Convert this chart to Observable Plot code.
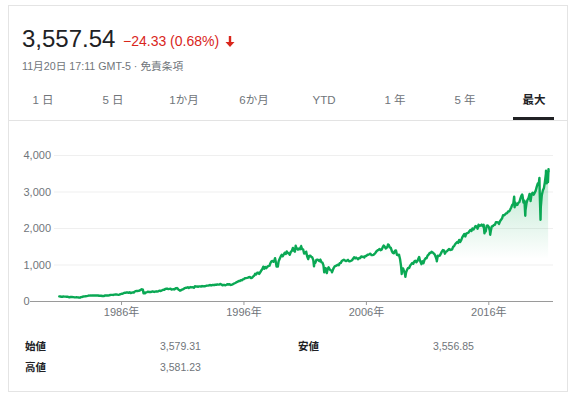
<!DOCTYPE html>
<html>
<head>
<meta charset="utf-8">
<script src="https://cdn.jsdelivr.net/npm/d3@7"></script>
<script src="https://cdn.jsdelivr.net/npm/@observablehq/plot@0.6"></script>
<style>
  html, body { margin: 0; padding: 0; background: #fff; }
  body { width: 578px; height: 400px; position: relative; overflow: hidden;
         font-family: Arial, "Liberation Sans", "Noto Sans CJK JP", sans-serif; }
  .card { position: absolute; left: 8px; top: 5px; width: 560px; height: 387px;
          border: 1px solid #e4e4e4; box-sizing: border-box; }
  .abs { position: absolute; white-space: nowrap; }
  .price { left: 22px; top: 27px; font-size: 24px; line-height: 24px; color: #202124; }
  .change { left: 123px; top: 34px; font-size: 14px; line-height: 14px; color: #d9261c; }
  .sub { left: 22px; top: 60px; font-size: 10.7px; line-height: 12px; color: #70757a; }
  .tab { top: 93px; width: 70px; text-align: center; font-size: 11.5px; line-height: 14px; color: #70757a; }
  .tab.on { color: #202124; font-weight: bold; }
  .sep { left: 9px; top: 120px; width: 559px; height: 1px; background: #e3e3e3; }
  .under { left: 513px; top: 117px; width: 41px; height: 3px; background: #202124; }
  .lab { font-size: 10.5px; line-height: 12px; color: #202124; font-weight: bold; }
  .val { font-size: 10.5px; line-height: 12px; color: #70757a; }
  #chart { position: absolute; left: 0; top: 130px; }
</style>
</head>
<body>
<div class="card"></div>
<div class="abs price">3,557.54</div>
<div class="abs change">−24.33 (0.68%)
  <svg width="10" height="11" viewBox="0 0 10 11" style="vertical-align:-1px;margin-left:2px"><path d="M3.8 0h2.4v6h3.3L5 11 0.5 6h3.3z" fill="#d9261c"/></svg></div>
<div class="abs sub">11月20日 17:11 GMT-5 · 免責条項</div>
<div id="tabs"></div>
<div class="abs sep"></div>
<div class="abs under"></div>
<div id="table"></div>
<div id="chart"></div>
<script>
// ---- Data (S&P 500, monthly closes from 1980-11 to 2020-10) ----
const firstYear = 1980, firstMonth = 10; // November 1980 (0-based month)
const monthlyCloses = [
  140.52, 135.76,
  129.55, 131.27, 136.00, 132.81, 132.59, 131.21, 130.92, 122.79, 116.18, 121.89, 126.35, 122.55,
  120.40, 113.11, 111.96, 116.44, 111.88, 109.61, 107.09, 119.51, 120.42, 133.71, 138.54, 140.64,
  145.30, 148.06, 152.96, 164.42, 162.39, 168.11, 162.56, 164.40, 166.07, 163.55, 166.40, 164.93,
  163.41, 157.06, 159.18, 160.05, 150.55, 153.18, 150.66, 166.68, 166.10, 166.09, 163.58, 167.24,
  179.63, 181.18, 180.66, 179.83, 189.55, 191.85, 190.92, 188.63, 182.08, 189.82, 202.17, 211.28,
  211.78, 226.92, 238.90, 235.52, 247.35, 250.84, 236.12, 252.93, 231.32, 243.98, 249.22, 242.17,
  274.08, 284.20, 291.70, 288.36, 290.10, 304.00, 318.66, 329.80, 321.83, 251.79, 230.30, 247.08,
  257.07, 267.82, 258.89, 261.33, 262.16, 273.50, 272.02, 261.52, 271.91, 278.97, 273.70, 277.72,
  297.47, 288.86, 294.87, 309.64, 320.52, 317.98, 346.08, 351.45, 349.15, 340.36, 345.99, 353.40,
  329.08, 331.89, 339.94, 330.80, 361.23, 358.02, 356.15, 322.56, 306.05, 304.00, 322.22, 330.22,
  343.93, 367.07, 375.22, 375.34, 389.83, 371.16, 387.81, 395.43, 387.86, 392.46, 375.22, 417.09,
  408.79, 412.70, 403.69, 414.95, 415.35, 408.14, 424.21, 414.03, 417.80, 418.68, 431.35, 435.71,
  438.78, 443.38, 451.67, 440.19, 450.19, 450.53, 448.13, 463.56, 458.93, 467.83, 461.79, 466.45,
  481.61, 467.14, 445.77, 450.91, 456.50, 444.27, 458.26, 475.49, 462.69, 472.35, 453.69, 459.27,
  470.42, 487.39, 500.71, 514.71, 533.40, 544.75, 562.06, 561.88, 584.41, 581.50, 605.37, 615.93,
  636.02, 640.43, 645.50, 654.17, 669.12, 670.63, 639.95, 651.99, 687.33, 705.27, 757.02, 740.74,
  786.16, 790.82, 757.12, 801.34, 848.28, 885.14, 954.29, 899.47, 947.28, 914.62, 955.40, 970.43,
  980.28, 1049.34, 1101.75, 1111.75, 1090.82, 1133.84, 1120.67, 957.28, 1017.01, 1098.67, 1163.63, 1229.23,
  1279.64, 1238.33, 1286.37, 1335.18, 1301.84, 1372.71, 1328.72, 1320.41, 1282.71, 1362.93, 1388.91, 1469.25,
  1394.46, 1366.42, 1498.58, 1452.43, 1420.60, 1454.60, 1430.83, 1517.68, 1436.51, 1429.40, 1314.95, 1320.28,
  1366.01, 1239.94, 1160.33, 1249.46, 1255.82, 1224.42, 1211.23, 1133.58, 1040.94, 1059.78, 1139.45, 1148.08,
  1130.20, 1106.73, 1147.39, 1076.92, 1067.14, 989.82, 911.62, 916.07, 815.28, 885.76, 936.31, 879.82,
  855.70, 841.15, 848.18, 916.92, 963.59, 974.50, 990.31, 1008.01, 995.97, 1050.71, 1058.20, 1111.92,
  1131.13, 1144.94, 1126.21, 1107.30, 1120.68, 1140.84, 1101.72, 1104.24, 1114.58, 1130.20, 1173.82, 1211.92,
  1181.27, 1203.60, 1180.59, 1156.85, 1191.50, 1191.33, 1234.18, 1220.33, 1228.81, 1207.01, 1249.48, 1248.29,
  1280.08, 1280.66, 1294.87, 1310.61, 1270.09, 1270.20, 1276.66, 1303.82, 1335.85, 1377.94, 1400.63, 1418.30,
  1438.24, 1406.82, 1420.86, 1482.37, 1530.62, 1503.35, 1455.27, 1473.99, 1526.75, 1549.38, 1481.14, 1468.36,
  1378.55, 1330.63, 1322.70, 1385.59, 1400.38, 1280.00, 1267.38, 1282.83, 1166.36, 968.75, 896.24, 903.25,
  825.88, 735.09, 797.87, 872.81, 919.14, 919.32, 987.48, 1020.62, 1057.08, 1036.19, 1095.63, 1115.10,
  1073.87, 1104.49, 1169.43, 1186.69, 1089.41, 1030.71, 1101.60, 1049.33, 1141.20, 1183.26, 1180.55, 1257.64,
  1286.12, 1327.22, 1325.83, 1363.61, 1345.20, 1320.64, 1292.28, 1218.89, 1131.42, 1253.30, 1246.96, 1257.60,
  1312.41, 1365.68, 1408.47, 1397.91, 1310.33, 1362.16, 1379.32, 1406.58, 1440.67, 1412.16, 1416.18, 1426.19,
  1498.11, 1514.68, 1569.19, 1597.57, 1630.74, 1606.28, 1685.73, 1632.97, 1681.55, 1756.54, 1805.81, 1848.36,
  1782.59, 1859.45, 1872.34, 1883.95, 1923.57, 1960.23, 1930.67, 2003.37, 1972.29, 2018.05, 2067.56, 2058.90,
  1994.99, 2104.50, 2067.89, 2085.51, 2107.39, 2063.11, 2103.84, 1972.18, 1920.03, 2079.36, 2080.41, 2043.94,
  1940.24, 1932.23, 2059.74, 2065.30, 2096.95, 2098.86, 2173.60, 2170.95, 2168.27, 2126.15, 2198.81, 2238.83,
  2278.87, 2363.64, 2362.72, 2384.20, 2411.80, 2423.41, 2470.30, 2471.65, 2519.36, 2575.26, 2647.58, 2673.61,
  2823.81, 2713.83, 2640.87, 2648.05, 2705.27, 2718.37, 2816.29, 2901.52, 2913.98, 2711.74, 2760.17, 2506.85,
  2704.10, 2784.49, 2834.40, 2945.83, 2752.06, 2941.76, 2980.38, 2926.46, 2976.74, 3037.56, 3140.98, 3230.78,
  3225.52, 2954.22, 2584.59, 2912.43, 3044.31, 3100.29, 3271.12, 3500.31, 3363.00, 3269.96
];
// Intra-month peaks and troughs visible in the chart
const extremeDates = [
  "1982-08-12", "1987-08-25", "1987-10-19", "1987-12-04", "1990-07-16", "1990-10-11",
  "1998-07-17", "1998-10-08", "2000-03-24", "2000-09-01", "2001-09-21", "2002-07-23",
  "2002-10-09", "2003-03-11", "2007-10-09", "2008-11-20", "2009-03-09", "2010-04-23",
  "2010-07-02", "2011-10-03", "2015-08-25", "2016-02-11", "2018-01-26", "2018-02-08",
  "2018-09-20", "2018-12-24", "2020-02-19", "2020-03-23", "2020-09-02", "2020-09-23",
  "2020-10-12", "2020-11-16", "2020-11-20"
];
const extremeValues = [
  102.42, 336.77, 224.84, 223.92, 368.95, 295.46,
  1186.75, 959.44, 1527.46, 1520.77, 965.80, 797.70,
  776.76, 800.73, 1565.15, 752.44, 676.53, 1217.28,
  1022.58, 1099.23, 1867.61, 1829.08, 2872.87, 2581.00,
  2930.75, 2351.10, 3386.15, 2237.40, 3580.84, 3236.92,
  3534.22, 3626.91, 3557.54
];
const yTicks = [0, 1000, 2000, 3000, 4000];
const xTickLabels = ["1986", "1996", "2006", "2016"];
const tabLabels = ["1 日", "5 日", "1か月", "6か月", "YTD", "1 年", "5 年", "最大"];
const statLabels = ["始値", "高値", "安値"];
const statValues = ["3,579.31", "3,581.23", "3,556.85"];

// ---- Header tabs and stats table ----
const tabCenters = [43, 113, 184, 254, 324, 395, 465, 534];
tabLabels.forEach((t, i) => {
  const d = document.createElement("div");
  d.className = "abs tab" + (i === tabLabels.length - 1 ? " on" : "");
  d.style.left = (tabCenters[i] - 35) + "px";
  d.textContent = t;
  document.getElementById("tabs").appendChild(d);
});
const statPos = [[25, 160, 340], [25, 160, 361], [298, 433, 340]];
statLabels.forEach((t, i) => {
  const [lx, vx, y] = statPos[i];
  const a = document.createElement("div");
  a.className = "abs lab"; a.style.left = lx + "px"; a.style.top = y + "px"; a.textContent = t;
  const b = document.createElement("div");
  b.className = "abs val"; b.style.left = vx + "px"; b.style.top = y + "px"; b.textContent = statValues[i];
  document.getElementById("table").append(a, b);
});

// ---- Build series ----
const data = monthlyCloses.map((v, i) => ({
  date: new Date(Date.UTC(firstYear, firstMonth + i + 1, 0)),
  close: v
})).concat(extremeDates.map((d, i) => ({date: new Date(d + "T00:00:00Z"), close: extremeValues[i]})))
  .sort((a, b) => a.date - b.date);

const green = "#0aa854";
const xTicks = xTickLabels.map(y => new Date(y + "-01-01T00:00:00Z"));

const chart = Plot.plot({
  width: 578,
  height: 200,
  marginLeft: 30,
  marginRight: 25,
  marginTop: 25,
  marginBottom: 29,
  style: {fontFamily: "Arial, 'Liberation Sans', 'Noto Sans CJK JP', sans-serif", fontSize: "11px", color: "#70757a", background: "transparent"},
  x: {type: "utc", domain: [new Date("1978-07-26T00:00:00Z"), new Date("2021-04-14T00:00:00Z")]},
  y: {domain: [0, 4000], axis: null},
  marks: [
    Plot.ruleY(yTicks.filter(d => d > 0), {stroke: "#efefef", insetLeft: 24}),
    Plot.areaY(data, {x: "date", y: "close", fill: "url(#spxFill)"}),
    Plot.ruleY([0], {stroke: "#9a9a9a"}),
    Plot.axisX({ticks: xTicks, tickFormat: d => `${d.getUTCFullYear()}年`, tickSize: 4, tickPadding: 3, stroke: "#9a9a9a", fill: "#70757a"}),
    Plot.text(yTicks, {y: d => d, text: d => d3.format(",")(d), frameAnchor: "left", textAnchor: "start", dx: -7, fill: "#70757a"}),
    Plot.lineY(data, {x: "date", y: "close", stroke: green, strokeWidth: 2.4, strokeLinejoin: "round"})
  ]
});

const ys = chart.scale("y");
const defs = d3.select(chart).insert("defs", ":first-child");
const grad = defs.append("linearGradient").attr("id", "spxFill")
  .attr("gradientUnits", "userSpaceOnUse")
  .attr("x1", 0).attr("x2", 0)
  .attr("y1", ys.apply(3700)).attr("y2", ys.apply(1150));
grad.append("stop").attr("offset", 0).attr("stop-color", green).attr("stop-opacity", 0.3);
grad.append("stop").attr("offset", 1).attr("stop-color", green).attr("stop-opacity", 0);

document.getElementById("chart").appendChild(chart);
</script>
</body>
</html>
